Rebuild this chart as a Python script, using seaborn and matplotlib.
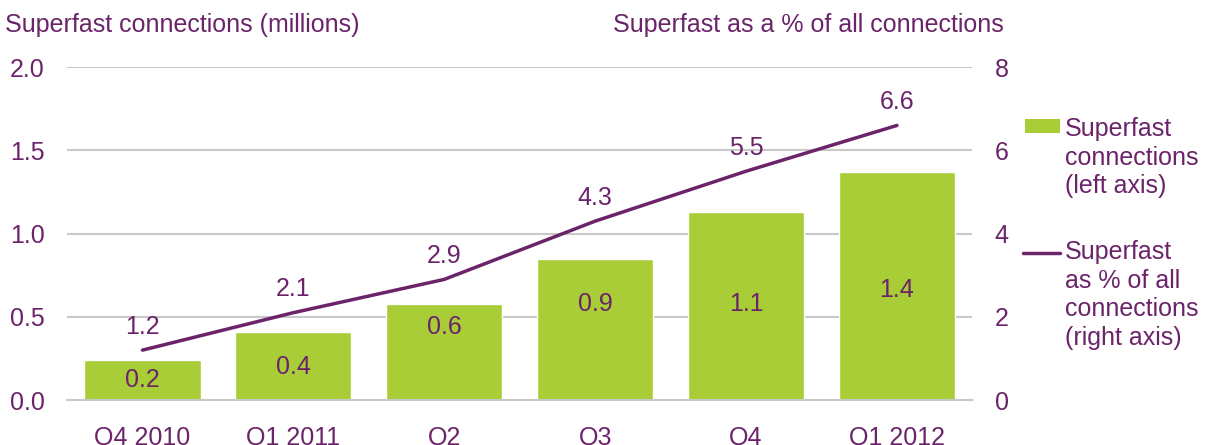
import matplotlib
matplotlib.use("Agg")
from matplotlib import pyplot as plt
from matplotlib.patches import Rectangle
from matplotlib.lines import Line2D
import pandas as pd
import seaborn as sns

quarters = ["Q4 2010", "Q1 2011", "Q2", "Q3", "Q4", "Q1 2012"]
connections = [0.24, 0.41, 0.58, 0.85, 1.13, 1.37]
conn_labels = ["0.2", "0.4", "0.6", "0.9", "1.1", "1.4"]
conn_label_y = [0.12, 0.20, 0.44, 0.58, 0.58, 0.66]
pct_of_all = [1.2, 2.1, 2.9, 4.3, 5.5, 6.6]

GREEN = "#a8cd37"
PURPLE = "#6b2469"
GRID = "#c9c9c9"
FS = 18

sns.set_theme(style="white")
plt.rcParams["font.family"] = ["Liberation Sans", "DejaVu Sans"]
plt.rcParams["font.size"] = FS

df = pd.DataFrame({"quarter": quarters, "conn": connections, "pct": pct_of_all})

fig = plt.figure(figsize=(12.12, 4.45), dpi=100)
ax = fig.add_axes([0.0553, 0.101, 0.747, 0.748])

sns.barplot(data=df, x="quarter", y="conn", color=GREEN, saturation=1,
            width=0.77, ax=ax, zorder=2)
ax.set_ylim(0, 2.0)
ax.set_yticks([0, 0.5, 1.0, 1.5, 2.0])
ax.set_yticklabels(["0.0", "0.5", "1.0", "1.5", "2.0"])
ax.set_xlim(-0.5, len(quarters) - 0.5)
for y in [0.5, 1.0, 1.5, 2.0]:
    ax.axhline(y, color=GRID, lw=1.5, zorder=0)
for s in ["top", "right", "left"]:
    ax.spines[s].set_visible(False)
ax.spines["bottom"].set_color(GRID)
ax.spines["bottom"].set_linewidth(1.5)
ax.set_xlabel("")
ax.set_ylabel("")
ax.tick_params(axis="y", length=0, pad=16, labelcolor=PURPLE, labelsize=FS)
ax.tick_params(axis="x", length=0, pad=19, labelcolor=PURPLE, labelsize=FS)
ax.set_xticks(range(len(quarters)))
ax.set_xticklabels(quarters)
# boundary ticks on x axis
ax.set_xticks([i - 0.5 for i in range(len(quarters) + 1)], minor=True)
ax.tick_params(axis="x", which="minor", length=8, width=1.5, color=GRID,
               direction="out")

for i, (yl, lab) in enumerate(zip(conn_label_y, conn_labels)):
    ax.text(i, yl, lab, ha="center", va="center", color=PURPLE,
            fontsize=FS, zorder=3)

ax2 = ax.twinx()
sns.lineplot(data=df, x="quarter", y="pct", color=PURPLE, lw=2.5,
             sort=False, ax=ax2, zorder=4)
ax2.set_ylim(0, 8)
ax2.set_yticks([0, 2, 4, 6, 8])
for s in ["top", "right", "left", "bottom"]:
    ax2.spines[s].set_visible(False)
ax2.set_xlabel("")
ax2.set_ylabel("")
ax2.tick_params(axis="y", length=0, pad=16, labelcolor=PURPLE, labelsize=FS)
for i, v in enumerate(pct_of_all):
    ax2.annotate(f"{v:.1f}", (i, v), xytext=(0, 17), textcoords="offset points",
                 ha="center", va="center", color=PURPLE, fontsize=FS)

fig.text(0.004, 0.944, "Superfast connections (millions)", color=PURPLE,
         fontsize=FS, ha="left", va="center")
fig.text(0.828, 0.944, "Superfast as a % of all connections", color=PURPLE,
         fontsize=FS, ha="right", va="center")

# legend drawn by hand so the key sits beside the first line of text
W, H = 1212, 445
fig.patches.append(Rectangle((1025 / W, 1 - 133 / H), 35 / W, 14 / H,
                             transform=fig.transFigure, facecolor=GREEN,
                             edgecolor="none"))
fig.lines.append(Line2D([1023 / W, 1060 / W], [1 - 253 / H, 1 - 253 / H],
                        transform=fig.transFigure, color=PURPLE, lw=2.5))
fig.text(1065 / W, 1 - 117 / H, "Superfast\nconnections\n(left axis)",
         color=PURPLE, fontsize=FS, ha="left", va="top", linespacing=1.24)
fig.text(1065 / W, 1 - 240 / H,
         "Superfast\nas % of all\nconnections\n(right axis)",
         color=PURPLE, fontsize=FS, ha="left", va="top", linespacing=1.24)

fig.savefig("out.png", dpi=100)
